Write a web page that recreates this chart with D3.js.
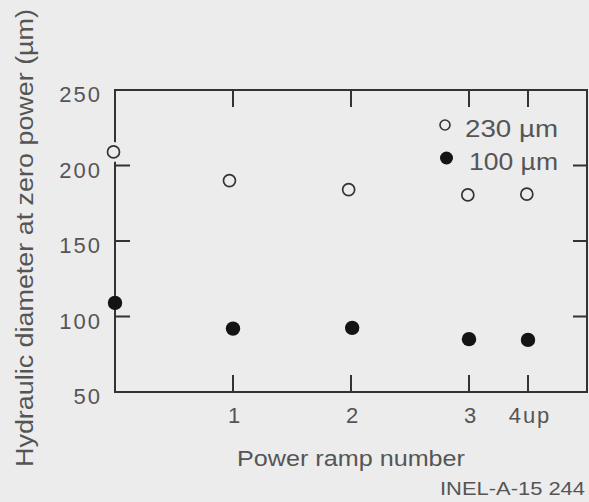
<!DOCTYPE html>
<html>
<head>
<meta charset="utf-8">
<script src="https://cdn.jsdelivr.net/npm/d3@7"></script>
<style>
  html, body { margin: 0; padding: 0; background: #ececec; }
  svg { display: block; }
  text { font-family: "Liberation Sans", Arial, sans-serif; fill: #555; }
</style>
</head>
<body>
<svg id="chart" width="589" height="502"></svg>
<script>
// ---- data ----
const xTickValues = [1, 2, 3, 3.5];
const xTickLabels = ["1", "2", "3", "4up"];
const yTickValues = [50, 100, 150, 200, 250];

const open230X = [0, 0.97, 1.98, 2.99, 3.49];
const open230Y = [209, 190, 184, 180.5, 181];

const filled100X = [0, 1.0, 2.01, 3.0, 3.5];
const filled100Y = [109, 92, 92.5, 85, 84.5];

const legendLabels = ["230 \u00b5m", "100 \u00b5m"];
const xTitle = "Power ramp number";
const yTitle = "Hydraulic diameter at zero power (\u00b5m)";
const footer = "INEL-A-15  244";

// ---- layout ----
const svg = d3.select("#chart");
const bg = "#ececec";
const lineCol = "#333";
const x = d3.scaleLinear().domain([0, 4]).range([115, 587]);
const y = d3.scaleLinear().domain([50, 250]).range([392, 90]);
const [x0, x1] = x.range();
const [yb, yt] = y.range();

const g = svg.append("g");

// frame
g.append("rect").attr("x", x0).attr("y", yt).attr("width", x1 - x0).attr("height", yb - yt)
  .attr("fill", "none").attr("stroke", lineCol).attr("stroke-width", 2);

// x ticks (bottom up, top down)
const tl = 17;
g.selectAll(".xtb").data(xTickValues).join("line")
  .attr("x1", d => x(d)).attr("x2", d => x(d)).attr("y1", yb).attr("y2", yb - tl)
  .attr("stroke", lineCol).attr("stroke-width", 2);
g.selectAll(".xtt").data(xTickValues).join("line")
  .attr("x1", d => x(d)).attr("x2", d => x(d)).attr("y1", yt).attr("y2", yt + tl)
  .attr("stroke", lineCol).attr("stroke-width", 2);

// y ticks (left inward, right inward), interior only
const yInner = yTickValues.filter(v => v > 50 && v < 250);
g.selectAll(".ytl").data(yInner).join("line")
  .attr("x1", x0).attr("x2", x0 + 15).attr("y1", d => y(d)).attr("y2", d => y(d))
  .attr("stroke", lineCol).attr("stroke-width", 2);
g.selectAll(".ytr").data(yInner).join("line")
  .attr("x1", x1).attr("x2", x1 - 14).attr("y1", d => y(d)).attr("y2", d => y(d))
  .attr("stroke", lineCol).attr("stroke-width", 2);

// y tick labels
g.selectAll(".ylab").data(yTickValues).join("text")
  .attr("x", 102).attr("y", d => y(d) + 12)
  .attr("text-anchor", "end").attr("font-size", 22).attr("letter-spacing", 2)
  .text(d => d);

// x tick labels
g.selectAll(".xlab").data(xTickValues).join("text")
  .attr("x", d => x(d) + 2).attr("y", 423)
  .attr("text-anchor", "middle").attr("font-size", 22).attr("letter-spacing", 2)
  .text((d, i) => xTickLabels[i]);

// axis titles
g.append("text").attr("x", 351).attr("y", 466).attr("text-anchor", "middle")
  .attr("font-size", 22).attr("textLength", 228).attr("lengthAdjust", "spacingAndGlyphs")
  .text(xTitle);
g.append("text").attr("transform", "translate(33,238) rotate(-90)")
  .attr("text-anchor", "middle").attr("font-size", 23)
  .attr("textLength", 458).attr("lengthAdjust", "spacingAndGlyphs")
  .text(yTitle);

// footer
g.append("text").attr("x", 585).attr("y", 495).attr("text-anchor", "end")
  .attr("font-size", 18).attr("textLength", 145).attr("lengthAdjust", "spacingAndGlyphs")
  .text(footer);

// data points
const openPts = open230X.map((v, i) => ({x: v, y: open230Y[i]}));
const fillPts = filled100X.map((v, i) => ({x: v, y: filled100Y[i]}));

// halo behind points on the axis
g.selectAll(".halo").data(openPts.filter(d => d.x === 0)).join("circle")
  .attr("cx", d => x(d.x) - 1).attr("cy", d => y(d.y)).attr("r", 10).attr("fill", bg);

g.selectAll(".open").data(openPts).join("circle")
  .attr("cx", d => x(d.x) - (d.x === 0 ? 1.5 : 0)).attr("cy", d => y(d.y)).attr("r", 6)
  .attr("fill", bg).attr("stroke", "#333").attr("stroke-width", 1.7);

g.selectAll(".filled").data(fillPts).join("circle")
  .attr("cx", d => x(d.x)).attr("cy", d => y(d.y)).attr("r", 7.2)
  .attr("fill", "#141414");

// legend
const leg = g.append("g");
leg.append("circle").attr("cx", 445).attr("cy", 125).attr("r", 5)
  .attr("fill", "none").attr("stroke", "#333").attr("stroke-width", 1.6);
leg.append("circle").attr("cx", 446.5).attr("cy", 158).attr("r", 6.5).attr("fill", "#141414");
leg.append("text").attr("x", 465).attr("y", 137).attr("font-size", 23)
  .attr("textLength", 93).attr("lengthAdjust", "spacingAndGlyphs").text(legendLabels[0]);
leg.append("text").attr("x", 469).attr("y", 170).attr("font-size", 23)
  .attr("textLength", 89).attr("lengthAdjust", "spacingAndGlyphs").text(legendLabels[1]);
</script>
</body>
</html>
